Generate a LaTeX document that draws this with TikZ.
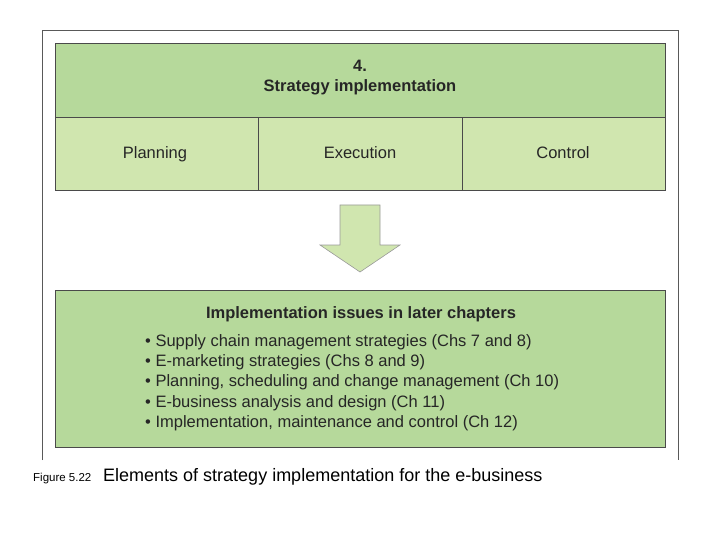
\documentclass[tikz,border=0pt]{standalone}
\usepackage{fontspec}
\setmainfont{Liberation Sans}
\definecolor{dkg}{HTML}{B6D99B}
\definecolor{ltg}{HTML}{D0E6AF}
\definecolor{edge}{HTML}{4A4A4A}
\begin{document}
\begin{tikzpicture}[x=1pt,y=-1pt,
  cell/.style={draw=edge,line width=0.8pt,inner sep=0pt},
  lbl/.style={font=\fontsize{16.5}{19}\selectfont,text=black!85,anchor=base,inner sep=0pt}]
\useasboundingbox (0,0) rectangle (720,540);
\draw[gray!70!black,line width=0.6pt] (42,460) -- (42,30) -- (678,30) -- (678,460);
\draw[cell,fill=dkg] (55,43) rectangle (665,117);
\node[lbl,font=\fontsize{16.5}{19}\selectfont\bfseries] (num) at (360,72) {4.};
\node[lbl,font=\fontsize{16.5}{19}\selectfont\bfseries] (title) at (360,92) {Strategy implementation};
\draw[cell,fill=ltg] (55,117) rectangle (258,190);
\draw[cell,fill=ltg] (258,117) rectangle (462,190);
\draw[cell,fill=ltg] (462,117) rectangle (665,190);
\node[lbl] (p) at (155,159) {Planning};
\node[lbl] (e) at (360,159) {Execution};
\node[lbl] (c) at (563,159) {Control};
\draw[draw=gray!80,fill=ltg,line width=0.6pt] (340,205) -- (380,205) -- (380,245) -- (400,245) -- (360,272) -- (320,245) -- (340,245) -- cycle;
\draw[cell,fill=dkg] (55,290) rectangle (665,447);
\node[lbl,font=\fontsize{16.5}{19}\selectfont\bfseries] (h) at (361,318) {Implementation issues in later chapters};
\node[lbl,anchor=north west,align=left,font=\fontsize{16.5}{20.3}\selectfont] (list) at (145,334) {%
\textbullet\ Supply chain management strategies (Chs 7 and 8)\\
\textbullet\ E-marketing strategies (Chs 8 and 9)\\
\textbullet\ Planning, scheduling and change management (Ch 10)\\
\textbullet\ E-business analysis and design (Ch 11)\\
\textbullet\ Implementation, maintenance and control (Ch 12)};
\node[anchor=base west,inner sep=0pt,font=\fontsize{11.5}{13}\selectfont] (fig) at (33,481) {Figure 5.22};
\node[anchor=base west,inner sep=0pt,font=\fontsize{18}{20}\selectfont] (cap) at (103,481) {Elements of strategy implementation for the e-business};
\end{tikzpicture}
\end{document}
